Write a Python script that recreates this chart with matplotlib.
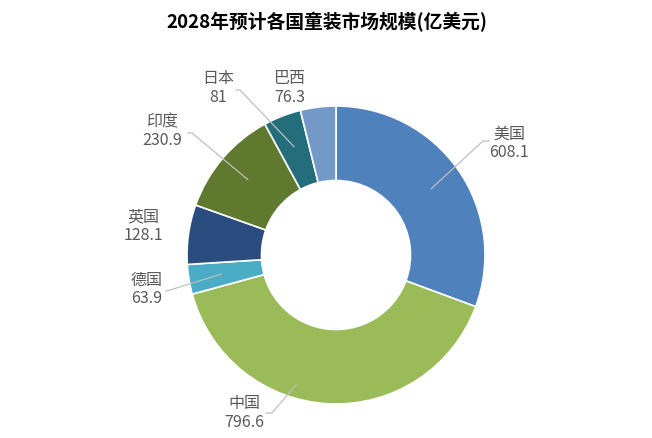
import numpy as np
import matplotlib.pyplot as plt

plt.rcParams['font.family'] = ['Noto Sans CJK SC', 'DejaVu Sans']

countries = ['美国', '中国', '德国', '英国', '印度', '日本', '巴西']
values = [608.1, 796.6, 63.9, 128.1, 230.9, 81, 76.3]
colors = ['#4F81BD', '#9BBB59', '#4BACC6', '#2B4C7E', '#5F7A2E', '#246E7C', '#7399C9']

# label placement (pixels in a 652x438 canvas): text centre, leader-line elbow
label_px = [(509, 143), (244, 413), (147, 289), (143, 226), (162, 131), (218, 88), (290, 88)]
anchor_px = [None, (296, 385), None, None, None, None, None]
elbow_px = [(483, 141), (272, 413), (170, 290), None, (192, 133), (240, 90), None]
line_end_px = [(489, 141), (266, 413), (166, 291), None, (188, 133), (236, 90), None]

cx, cy, R = 336, 255, 149
W, H = 652, 438


def to_data(p):
    return ((p[0] - cx) / R, (cy - p[1]) / R)


fig = plt.figure(figsize=(6.52, 4.38), dpi=100)
ax = fig.add_axes([(cx - R) / W, (H - cy - R) / H, 2 * R / W, 2 * R / H])

wedges, _ = ax.pie(values, colors=colors, startangle=90, counterclock=False,
                   radius=1, wedgeprops=dict(width=0.5, edgecolor='white', linewidth=1.2))
ax.set_xlim(-1, 1)
ax.set_ylim(-1, 1)
ax.axis('off')

total = sum(values)
start = 90
for i, (name, v) in enumerate(zip(countries, values)):
    sweep = v / total * 360
    mid = np.deg2rad(start - sweep / 2)
    start -= sweep
    tx, ty = to_data(label_px[i])
    ax.text(tx, ty, f'{name}\n{v:g}', ha='center', va='center', fontsize=11.5,
            color='#595959', linespacing=1.1, clip_on=False)
    if elbow_px[i] is not None:
        if anchor_px[i] is None:
            ax0, ay0 = 0.78 * np.cos(mid), 0.78 * np.sin(mid)
        else:
            ax0, ay0 = to_data(anchor_px[i])
        ex, ey = to_data(elbow_px[i])
        lx, ly = to_data(line_end_px[i])
        ax.plot([ax0, ex, lx], [ay0, ey, ly], color='#BFBFBF', lw=0.9, clip_on=False)

fig.text(0.502, 0.95, '2028年预计各国童装市场规模(亿美元)', ha='center', va='center',
         fontsize=13.5, fontweight='bold', color='black')

fig.savefig('out.png', dpi=100)
